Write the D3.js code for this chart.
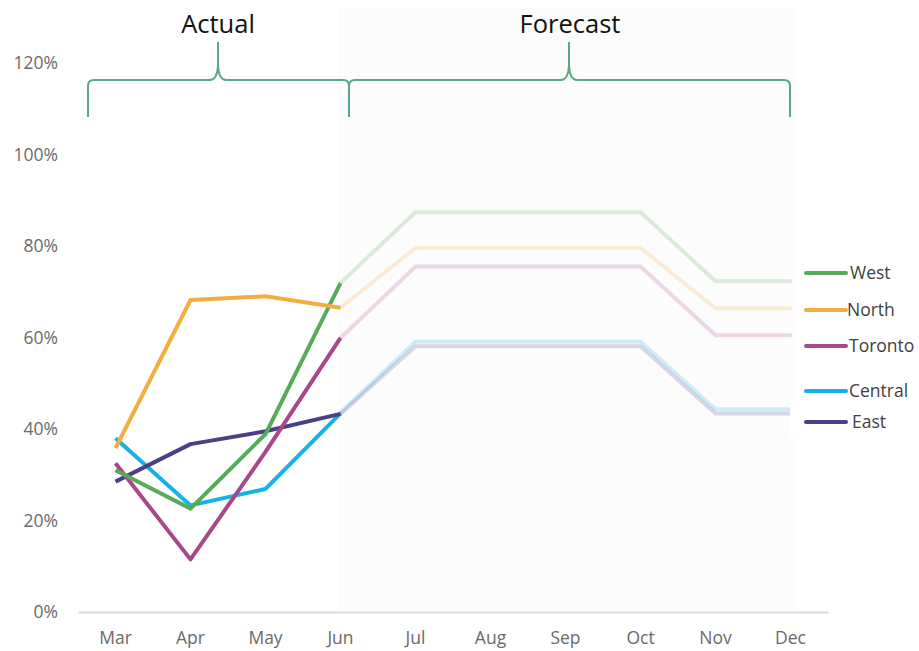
<!DOCTYPE html>
<html><head><meta charset="utf-8">
<script src="https://cdn.jsdelivr.net/npm/d3@7/dist/d3.min.js"></script>
<style>body{margin:0;background:#fff;} svg{display:block;font-family:"Open Sans",sans-serif;}</style>
</head><body><svg id="c" width="919" height="651"></svg>
<script>
const months = ["Mar","Apr","May","Jun","Jul","Aug","Sep","Oct","Nov","Dec"];
const actualMonths = ["Mar","Apr","May","Jun"];
const forecastMonths = ["Jun","Jul","Aug","Sep","Oct","Nov","Dec"];
const yTicks = [0,20,40,60,80,100,120];
const seriesNames = ["West","North","Toronto","Central","East"];
const seriesColors = ["#57ab58","#f2ae3e","#a8488b","#15b1e9","#4c3f86"];
const westActual = [31.0,22.6,38.9,71.9];
const northActual = [35.8,68.2,69.0,66.5];
const torontoActual = [32.5,11.5,35.0,59.9];
const centralActual = [38.0,23.3,26.9,43.4];
const eastActual = [28.5,36.7,39.5,43.3];
const westForecast = [71.9,87.4,87.4,87.4,87.4,72.3,72.3];
const northForecast = [66.5,79.6,79.6,79.6,79.6,66.4,66.4];
const torontoForecast = [59.9,75.5,75.5,75.5,75.5,60.5,60.5];
const centralForecast = [43.6,59.1,59.1,59.1,59.1,44.3,44.3];
const eastForecast = [43.3,58.1,58.1,58.1,58.1,43.4,43.4];
const actuals = [westActual,northActual,torontoActual,centralActual,eastActual];
const forecasts = [westForecast,northForecast,torontoForecast,centralForecast,eastForecast];
const legendY = [273,310,346,391,422];

const svg = d3.select("#c");
const x = d3.scaleBand().domain(months).range([78,828]);
const cx = m => x(m) + x.bandwidth()/2;
const y = d3.scaleLinear().domain([0,120]).range([612,63]);

// forecast shading
svg.append("rect").attr("x",338).attr("y",8).attr("width",459).attr("height",602).attr("fill","#fcfcfc");

// y tick labels
svg.append("g").selectAll("text").data(yTicks).join("text")
  .attr("x",58).attr("y",d=>y(d)).attr("dy","0.35em").attr("text-anchor","end")
  .attr("font-size",17.5).attr("fill","#6a6a6a").text(d=>d+"%");

// x axis
const xa = svg.append("g").attr("transform","translate(0,612)").call(d3.axisBottom(x).tickSize(0).tickPadding(20));
xa.select(".domain").attr("stroke","#d9d9d9").attr("stroke-width",2);
xa.selectAll("text").attr("font-size",17.5).attr("fill","#6a6a6a").attr("font-family","Open Sans, sans-serif");

const line = d3.line().x(d=>cx(d[0])).y(d=>y(d[1]));

// forecast lines (faded)
forecasts.forEach((vals,i)=>{
  svg.append("path").datum(forecastMonths.map((m,j)=>[m,vals[j]]))
    .attr("d",line).attr("fill","none").attr("stroke",seriesColors[i]).attr("stroke-opacity",0.2)
    .attr("stroke-width",4).attr("stroke-linecap","round").attr("stroke-linejoin","round");
});
// actual lines
[3,4,2,0,1].forEach(i=>{
  svg.append("path").datum(actualMonths.map((m,j)=>[m,actuals[i][j]]))
    .attr("d",line).attr("fill","none").attr("stroke",seriesColors[i])
    .attr("stroke-width",4).attr("stroke-linecap","butt").attr("stroke-linejoin","round");
});

// legend
svg.append("rect").attr("x",790).attr("y",398).attr("width",129).attr("height",40).attr("fill","#fff");
seriesNames.forEach((n,i)=>{
  svg.append("line").attr("x1",806).attr("x2",846).attr("y1",legendY[i]).attr("y2",legendY[i])
    .attr("stroke",seriesColors[i]).attr("stroke-width",4).attr("stroke-linecap","round");
  svg.append("text").attr("x",[850,847,849,849,852][i]).attr("y",legendY[i]).attr("dy","0.35em")
    .attr("font-size",17.5).attr("fill","#404040").text(n);
});

// braces
function brace(x0,x1,tip){
  const yb=117, ym=80, yt=42, r=6;
  return `M${x0},${yb} L${x0},${ym+r} Q${x0},${ym} ${x0+r},${ym} L${tip-8},${ym} Q${tip-1},${ym} ${tip},${ym-14} L${tip},${yt} `+
         `M${tip},${ym-14} Q${tip+1},${ym} ${tip+8},${ym} L${x1-r},${ym} Q${x1},${ym} ${x1},${ym+r} L${x1},${yb}`;
}
svg.append("path").attr("d",brace(88,349,218)).attr("fill","none").attr("stroke","#5aa985").attr("stroke-width",2);
svg.append("path").attr("d",brace(349,790,569)).attr("fill","none").attr("stroke","#5aa985").attr("stroke-width",2);
svg.append("text").attr("x",218).attr("y",33).attr("text-anchor","middle").attr("font-size",25.5).attr("fill","#111").text("Actual");
svg.append("text").attr("x",570).attr("y",33).attr("text-anchor","middle").attr("font-size",25.5).attr("fill","#111").text("Forecast");
</script></body></html>
